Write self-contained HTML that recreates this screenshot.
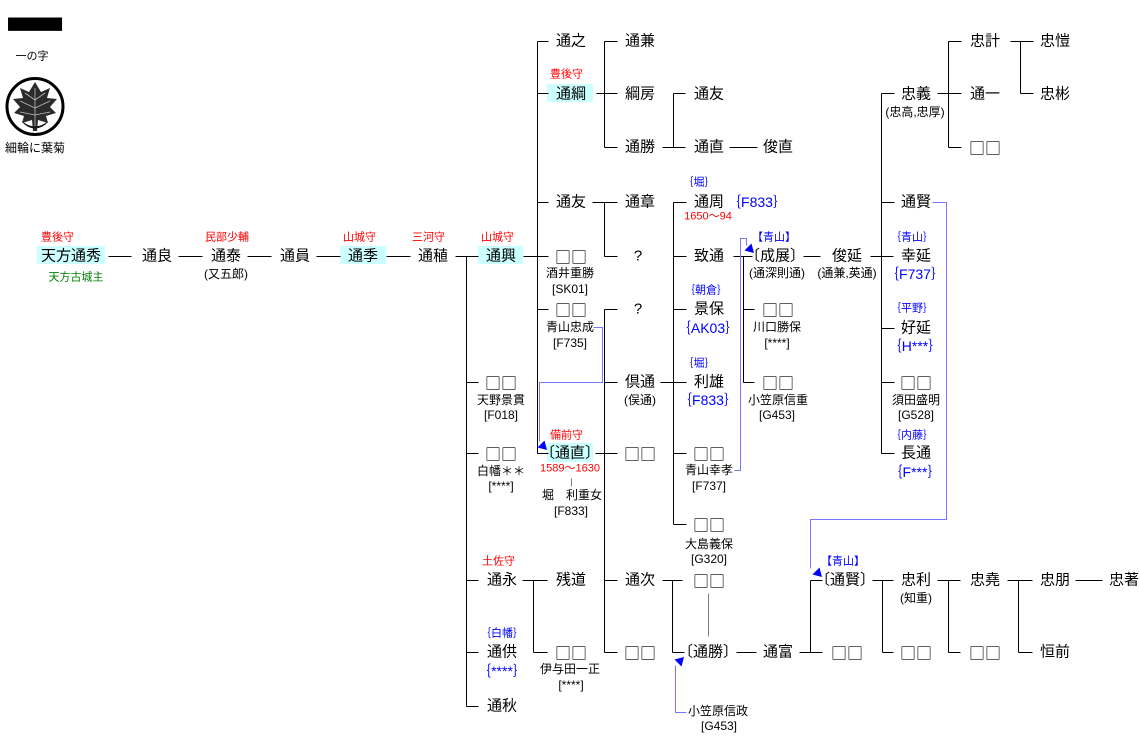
<!DOCTYPE html>
<html><head><meta charset="utf-8">
<style>
html,body{margin:0;padding:0;background:#fff;}
#w{position:relative;width:1140px;height:755px;overflow:hidden;background:#fff;}
.t{position:absolute;transform:translate(-50%,-50%);white-space:nowrap;line-height:1;font-family:"Liberation Sans","Noto Sans CJK JP",sans-serif;color:#000;}
.l{position:absolute;transform:translate(0,-50%);white-space:nowrap;line-height:1;font-family:"Liberation Sans","Noto Sans CJK JP",sans-serif;font-size:11px;color:#f00;}
.n{font-size:15px;}
.k{font-size:16px;font-family:"Noto Sans CJK JP",sans-serif;}
.s{font-size:12px;}
.r{font-size:11px;color:#f00;}
.b{font-size:11px;color:#00f;}
.B{font-size:14px;color:#00f;}
.g{font-size:11px;color:#008000;}
.h{position:absolute;background:#ccffff;}
svg{position:absolute;left:0;top:0;}
</style></head><body><div id="w">

<div class="h" style="left:37px;top:246px;width:68px;height:18px"></div>
<div class="h" style="left:340px;top:246px;width:46px;height:18px"></div>
<div class="h" style="left:478px;top:246px;width:45px;height:18px"></div>
<div class="h" style="left:547px;top:84px;width:46px;height:18px"></div>
<div class="h" style="left:547px;top:443px;width:46px;height:19px"></div>

<svg width="1140" height="755" viewBox="0 0 1140 755">
<g transform="translate(35,25) scale(1,1.45)"><text x="0" y="22" text-anchor="middle" font-family="Noto Sans CJK JP, sans-serif" font-weight="900" font-size="58" fill="#000">一</text></g>
<circle cx="35" cy="106.5" r="28" fill="#fff" stroke="#000" stroke-width="3"/>
<path d="M35,82 L41,92 L50,88 L47,98 L57,99 L50,107 L56,113 L46,116 L48,123 L38,120 L37,131 L33,131 L32,120 L22,123 L24,116 L14,113 L20,107 L13,99 L23,98 L20,88 L29,92 Z" fill="#2b2b2b"/>
<g stroke="#bbb" stroke-width="0.8" fill="none">
<path d="M35,88 V128 M35,100 L45,93 M35,100 L25,93 M35,108 L50,101 M35,108 L20,101 M35,115 L50,112 M35,115 L20,112"/>
</g>
<path d="M22,121 Q35,132 48,121 L46,124 Q35,133 24,124 Z" fill="#111"/>

<g transform="translate(0.5,0.5)" stroke="#000" stroke-width="1" fill="none" shape-rendering="crispEdges">
<path d="M108 256H131 M178 256H202 M247 256H271 M316 256H340 M386 256H410 M455 256H478
M466 256V706 M466 382H478 M466 453H478 M466 580H478 M466 652H478 M466 706H478
M523 256H548 M537 41V453 M537 41H548 M537 93H548 M537 202H548 M537 309H548 M537 453H548
M596 93H617 M604 41V147 M604 41H617 M604 147H617
M662 147H685 M673 93V147 M673 93H685
M729 147H757
M592 202H617 M604 202V256 M604 256H617
M595 453H617 M604 309V652 M604 309H617 M604 382H617 M604 580H617 M604 652H617
M660 382H686 M673 202V524 M673 202H686 M673 256H686 M673 309H686 M673 453H686 M673 524H686
M733 256H752 M743 256V382 M743 309H754 M743 382H754
M803 256H820
M870 256H893 M881 93V453 M881 93H894 M881 202H894 M881 328H894 M881 382H894 M881 453H894
M937 93H961 M948 41V147 M948 41H961 M948 147H961
M1010 41H1033 M1020 41V93 M1020 93H1033
M522 580H547 M533 580V652 M533 652H547
M662 580H682 M672 580V652 M672 652H684
M736 652H756
M799 652H822 M810 580V652 M810 580H822
M872 580H893 M882 580V652 M882 652H893
M937 580H960 M948 580V652 M948 652H960
M1007 580H1032 M1018 580V652 M1018 652H1032
M1075 580H1102"/>
<path d="M708 593V636 M571 478V486" stroke="#808080"/>
<path d="M593 327H602V382H539V441 M734 470H740V238H746V245 M932 202H946V519H810V568 M686 712H675V665" stroke="#7878ff"/>
</g>
<g fill="#0000ff">
<polygon points="547,450 544.5,440.5 537.5,447.5"/>
<polygon points="754,253 751.5,243.5 744.5,250.5"/>
<polygon points="822,577 819.5,567.5 812.5,574.5"/>
<polygon points="684,657 681.5,666.5 674.5,659.5"/>
</g>
</svg>

<div class="t" style="left:32px;top:57px;font-size:11px">一の字</div>
<div class="t" style="left:35px;top:148px;font-size:12px">細輪に葉菊</div>

<!-- red labels -->
<div class="l" style="left:41px;top:238px">豊後守</div>
<div class="l" style="left:205px;top:238px">民部少輔</div>
<div class="l" style="left:343px;top:238px">山城守</div>
<div class="l" style="left:412px;top:238px">三河守</div>
<div class="l" style="left:481px;top:238px">山城守</div>
<div class="l" style="left:550px;top:75px">豊後守</div>
<div class="l" style="left:550px;top:436px">備前守</div>
<div class="l" style="left:482px;top:562px">土佐守</div>

<!-- main row -->
<div class="t n" style="left:71px;top:256px">天方通秀</div>
<div class="t g" style="left:76px;top:278px">天方古城主</div>
<div class="t n" style="left:157px;top:256px">通良</div>
<div class="t n" style="left:226px;top:256px">通泰</div>
<div class="t s" style="left:226px;top:274px">(又五郎)</div>
<div class="t n" style="left:295px;top:256px">通員</div>
<div class="t n" style="left:363px;top:256px">通季</div>
<div class="t n" style="left:433px;top:256px">通稙</div>
<div class="t n" style="left:501px;top:256px">通興</div>

<!-- col 502 -->
<div class="t k" style="left:501px;top:382px">□□</div>
<div class="t s" style="left:501px;top:400px">天野景貫</div>
<div class="t s" style="left:501px;top:415px">[F018]</div>
<div class="t k" style="left:501px;top:453px">□□</div>
<div class="t s" style="left:501px;top:471px">白幡＊＊</div>
<div class="t s" style="left:501px;top:486px">[****]</div>
<div class="t n" style="left:502px;top:580px">通永</div>
<div class="t b" style="left:502px;top:634px">｛白幡｝</div>
<div class="t n" style="left:502px;top:652px">通供</div>
<div class="t B" style="left:502px;top:671px">｛****｝</div>
<div class="t n" style="left:502px;top:706px">通秋</div>

<!-- col 571 -->
<div class="t n" style="left:571px;top:41px">通之</div>
<div class="t n" style="left:571px;top:94px">通綱</div>
<div class="t n" style="left:571px;top:202px">通友</div>
<div class="t k" style="left:571px;top:256px">□□</div>
<div class="t s" style="left:570px;top:273px">酒井重勝</div>
<div class="t s" style="left:570px;top:289px">[SK01]</div>
<div class="t k" style="left:571px;top:309px">□□</div>
<div class="t s" style="left:570px;top:327px">青山忠成</div>
<div class="t s" style="left:570px;top:343px">[F735]</div>
<div class="t n" style="left:570px;top:453px">〔通直〕</div>
<div class="t r" style="left:570px;top:469px">1589～1630</div>
<div class="t s" style="left:572px;top:495px">堀　利重女</div>
<div class="t s" style="left:571px;top:511px">[F833]</div>
<div class="t n" style="left:571px;top:580px">残道</div>
<div class="t k" style="left:571px;top:652px">□□</div>
<div class="t s" style="left:570px;top:669px">伊与田一正</div>
<div class="t s" style="left:571px;top:685px">[****]</div>

<!-- col 640 -->
<div class="t n" style="left:640px;top:41px">通兼</div>
<div class="t n" style="left:640px;top:94px">綱房</div>
<div class="t n" style="left:640px;top:147px">通勝</div>
<div class="t n" style="left:640px;top:202px">通章</div>
<div class="t n" style="left:638px;top:256px">?</div>
<div class="t n" style="left:638px;top:309px">?</div>
<div class="t n" style="left:640px;top:382px">倶通</div>
<div class="t s" style="left:640px;top:400px">(俣通)</div>
<div class="t k" style="left:640px;top:453px">□□</div>
<div class="t n" style="left:640px;top:580px">通次</div>
<div class="t k" style="left:640px;top:652px">□□</div>

<!-- col 709 -->
<div class="t n" style="left:709px;top:94px">通友</div>
<div class="t n" style="left:709px;top:147px">通直</div>
<div class="t b" style="left:699px;top:183px">｛堀｝</div>
<div class="t n" style="left:709px;top:202px">通周</div>
<div class="t B" style="left:757px;top:202px">｛F833｝</div>
<div class="t r" style="left:708px;top:217px">1650～94</div>
<div class="t n" style="left:709px;top:256px">致通</div>
<div class="t b" style="left:706px;top:291px">｛朝倉｝</div>
<div class="t n" style="left:709px;top:309px">景保</div>
<div class="t B" style="left:708px;top:328px">｛AK03｝</div>
<div class="t b" style="left:699px;top:364px">｛堀｝</div>
<div class="t n" style="left:709px;top:382px">利雄</div>
<div class="t B" style="left:708px;top:400px">｛F833｝</div>
<div class="t k" style="left:709px;top:453px">□□</div>
<div class="t s" style="left:709px;top:470px">青山幸孝</div>
<div class="t s" style="left:709px;top:486px">[F737]</div>
<div class="t k" style="left:709px;top:524px">□□</div>
<div class="t s" style="left:709px;top:544px">大島義保</div>
<div class="t s" style="left:709px;top:559px">[G320]</div>
<div class="t k" style="left:709px;top:580px">□□</div>
<div class="t n" style="left:708px;top:652px">〔通勝〕</div>
<div class="t s" style="left:718px;top:711px">小笠原信政</div>
<div class="t s" style="left:719px;top:726px">[G453]</div>

<!-- col 778 -->
<div class="t n" style="left:778px;top:147px">俊直</div>
<div class="t b" style="left:774px;top:238px">【青山】</div>
<div class="t n" style="left:775px;top:256px">〔成展〕</div>
<div class="t s" style="left:777px;top:273px">(通深則通)</div>
<div class="t k" style="left:778px;top:309px">□□</div>
<div class="t s" style="left:777px;top:327px">川口勝保</div>
<div class="t s" style="left:777px;top:343px">[****]</div>
<div class="t k" style="left:778px;top:382px">□□</div>
<div class="t s" style="left:778px;top:400px">小笠原信重</div>
<div class="t s" style="left:777px;top:415px">[G453]</div>
<div class="t n" style="left:778px;top:652px">通富</div>

<!-- col 847 -->
<div class="t n" style="left:847px;top:256px">俊延</div>
<div class="t s" style="left:847px;top:273px">(通兼,英通)</div>
<div class="t b" style="left:843px;top:562px">【青山】</div>
<div class="t n" style="left:845px;top:580px">〔通賢〕</div>
<div class="t k" style="left:847px;top:652px">□□</div>

<!-- col 916 -->
<div class="t n" style="left:916px;top:94px">忠義</div>
<div class="t s" style="left:915px;top:112px">(忠高,忠厚)</div>
<div class="t n" style="left:916px;top:202px">通賢</div>
<div class="t b" style="left:912px;top:238px">｛青山｝</div>
<div class="t n" style="left:916px;top:256px">幸延</div>
<div class="t B" style="left:915px;top:274px">｛F737｝</div>
<div class="t b" style="left:912px;top:309px">｛平野｝</div>
<div class="t n" style="left:916px;top:328px">好延</div>
<div class="t B" style="left:915px;top:346px">｛H***｝</div>
<div class="t k" style="left:916px;top:382px">□□</div>
<div class="t s" style="left:916px;top:400px">須田盛明</div>
<div class="t s" style="left:916px;top:415px">[G528]</div>
<div class="t b" style="left:912px;top:436px">｛内藤｝</div>
<div class="t n" style="left:916px;top:453px">長通</div>
<div class="t B" style="left:915px;top:472px">｛F***｝</div>
<div class="t n" style="left:916px;top:580px">忠利</div>
<div class="t s" style="left:916px;top:598px">(知重)</div>
<div class="t k" style="left:916px;top:652px">□□</div>

<!-- col 985 -->
<div class="t n" style="left:985px;top:41px">忠計</div>
<div class="t n" style="left:985px;top:94px">通一</div>
<div class="t k" style="left:985px;top:147px">□□</div>
<div class="t n" style="left:985px;top:580px">忠堯</div>
<div class="t k" style="left:985px;top:652px">□□</div>

<!-- col 1055 -->
<div class="t n" style="left:1055px;top:41px">忠愷</div>
<div class="t n" style="left:1055px;top:94px">忠彬</div>
<div class="t n" style="left:1055px;top:580px">忠朋</div>
<div class="t n" style="left:1055px;top:652px">恒前</div>
<div class="t n" style="left:1124px;top:580px">忠著</div>

</div></body></html>
